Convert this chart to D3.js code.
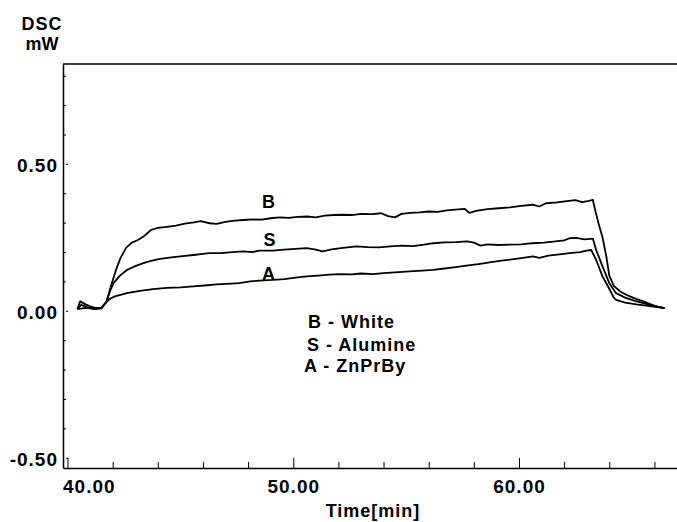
<!DOCTYPE html>
<html>
<head>
<meta charset="utf-8">
<script src="https://cdn.jsdelivr.net/npm/d3@7/dist/d3.min.js"></script>
<style>
  body { margin: 0; background: #fff; }
  svg text { font-family: "Liberation Sans", Arial, sans-serif; font-weight: bold; fill: #000; }
</style>
</head>
<body>
<script>
// DSC traces: [time (min), heat flow (mW)]
var seriesB = [[40.44,0.006],[40.6,0.02],[40.9,0.012],[41.2,0.006],[41.5,0.008],[41.72,0.03],[41.95,0.09],[42.15,0.14],[42.35,0.18],[42.6,0.215],[42.85,0.232],[43.1,0.24],[43.4,0.255],[43.7,0.275],[44.0,0.282],[44.4,0.286],[44.8,0.29],[45.2,0.297],[45.6,0.301],[45.9,0.305],[46.3,0.298],[46.6,0.296],[47.0,0.303],[47.4,0.307],[47.8,0.309],[48.2,0.311],[48.6,0.31],[49.0,0.315],[49.4,0.318],[49.8,0.316],[50.2,0.32],[50.6,0.321],[51.0,0.318],[51.4,0.324],[51.8,0.326],[52.2,0.327],[52.6,0.326],[53.0,0.33],[53.5,0.329],[53.9,0.332],[54.2,0.322],[54.5,0.318],[54.8,0.33],[55.2,0.333],[55.6,0.335],[56.0,0.338],[56.4,0.337],[56.8,0.342],[57.3,0.345],[57.6,0.347],[57.8,0.333],[58.1,0.34],[58.6,0.346],[59.1,0.349],[59.6,0.352],[60.1,0.357],[60.6,0.361],[60.9,0.355],[61.2,0.366],[61.7,0.369],[62.2,0.374],[62.5,0.377],[62.8,0.37],[63.1,0.374],[63.27,0.378],[63.4,0.335],[63.55,0.29],[63.7,0.25],[63.87,0.185],[64.0,0.12],[64.2,0.085],[64.5,0.065],[64.8,0.053],[65.1,0.043],[65.5,0.032],[65.9,0.02],[66.2,0.013],[66.45,0.009]];

var seriesS = [[40.44,0.006],[40.8,0.01],[41.2,0.007],[41.5,0.009],[41.72,0.03],[41.9,0.07],[42.04,0.094],[42.3,0.118],[42.63,0.139],[43.0,0.152],[43.36,0.162],[43.7,0.17],[44.1,0.177],[44.6,0.182],[45.1,0.186],[45.58,0.19],[46.0,0.194],[46.3,0.196],[46.8,0.196],[47.3,0.2],[47.8,0.202],[48.2,0.2],[48.5,0.205],[49.1,0.205],[49.6,0.208],[50.1,0.211],[50.6,0.213],[51.0,0.208],[51.3,0.202],[51.7,0.209],[52.2,0.214],[52.8,0.219],[53.3,0.217],[53.8,0.216],[54.3,0.219],[54.8,0.222],[55.3,0.22],[55.8,0.225],[56.2,0.23],[56.7,0.233],[57.2,0.234],[57.7,0.236],[58.0,0.232],[58.3,0.222],[58.6,0.226],[59.1,0.224],[59.6,0.225],[60.1,0.226],[60.6,0.23],[61.1,0.232],[61.6,0.236],[62.0,0.24],[62.24,0.247],[62.54,0.248],[62.9,0.243],[63.27,0.246],[63.42,0.207],[63.7,0.151],[64.0,0.094],[64.3,0.06],[64.7,0.045],[65.1,0.035],[65.5,0.026],[66.0,0.016],[66.45,0.009]];

var seriesA = [[40.44,0.006],[40.56,0.032],[40.8,0.022],[41.0,0.015],[41.23,0.01],[41.5,0.01],[41.72,0.03],[41.9,0.042],[42.1,0.049],[42.63,0.06],[43.2,0.068],[43.8,0.074],[44.4,0.078],[45.0,0.08],[45.58,0.083],[46.2,0.087],[46.6,0.09],[47.05,0.092],[47.6,0.094],[48.1,0.1],[48.5,0.103],[49.1,0.105],[49.6,0.108],[50.1,0.113],[50.6,0.117],[51.1,0.12],[51.6,0.123],[52.07,0.125],[52.6,0.124],[53.0,0.127],[53.54,0.125],[54.0,0.128],[54.5,0.131],[55.16,0.134],[55.7,0.137],[56.2,0.139],[56.7,0.144],[57.2,0.149],[57.67,0.154],[58.2,0.159],[58.7,0.165],[59.15,0.17],[59.6,0.174],[60.1,0.179],[60.62,0.185],[60.9,0.18],[61.3,0.188],[61.8,0.192],[62.24,0.196],[62.7,0.2],[63.0,0.205],[63.2,0.207],[63.42,0.173],[63.7,0.117],[64.0,0.075],[64.2,0.045],[64.3,0.037],[64.7,0.028],[65.2,0.022],[65.8,0.016],[66.45,0.009]];

// curve tags and where they sit (time, mW)
var curveNames  = ["B", "S", "A"];
var curveTagPos = [[48.9, 0.35], [48.95, 0.222], [48.9, 0.106]];
var legendLines = ["B - White", "S - Alumine", "A - ZnPrBy"];

// axis ticks
var xMajorTicks = [40, 50, 60];
var xMinorTicks = [42, 44, 46, 48, 52, 54, 56, 58, 62, 64, 66];
var yMajorTicks = [-0.5, 0, 0.5];
var yMinorTicks = [-0.4, -0.3, -0.2, -0.1, 0.1, 0.2, 0.3, 0.4, 0.6, 0.7, 0.8];

var width = 677, height = 522;

// plain hyphen minus, like the old plotter output
function fmt(d) {
    return d3.format(".2f")(d).replace("\u2212", "-");
}

var svg = d3.select("body").append("svg")
    .attr("width", width)
    .attr("height", height);

var x = d3.scaleLinear().domain([39.8, 67.0]).range([63, 677]);
var y = d3.scaleLinear().domain([-0.535, 0.84]).range([468, 64]);

/* frame: top line (left and bottom come from the axes) */
svg.append("line")
    .attr("x1", 63).attr("x2", 677)
    .attr("y1", 64).attr("y2", 64)
    .attr("stroke", "#000").attr("stroke-width", 1.5);

// bottom axis with labels
var xAxis = svg.append("g")
    .attr("transform", "translate(0,468)")
    .call(d3.axisBottom(x)
        .tickValues(xMajorTicks)
        .tickSizeInner(-10)
        .tickSizeOuter(0)
        .tickPadding(12)
        .tickFormat(fmt));
xAxis.selectAll("text")
    .style("font-size", "19px")
    .style("letter-spacing", "1px");
// first label is pushed clear of the y axis
xAxis.selectAll(".tick")
    .filter(function(d) { return d === 40; })
    .select("text")
    .attr("text-anchor", "start")
    .attr("x", -5);

svg.append("g")
    .attr("transform", "translate(0,468)")
    .call(d3.axisBottom(x)
        .tickValues(xMinorTicks)
        .tickSizeInner(-6)
        .tickSizeOuter(0)
        .tickFormat(""))
    .select(".domain").remove();

// left axis
var yAxis = svg.append("g")
    .attr("transform", "translate(63,0)")
    .call(d3.axisLeft(y)
        .tickValues(yMajorTicks)
        .tickSizeInner(-5)
        .tickSizeOuter(0)
        .tickPadding(5)
        .tickFormat(fmt));
yAxis.selectAll("text")
    .attr("dy", "0.4em")
    .style("font-size", "19px")
    .style("letter-spacing", "1px");
yAxis.selectAll(".tick line").attr("x1", 3);

svg.append("g")
    .attr("transform", "translate(63,0)")
    .call(d3.axisLeft(y)
        .tickValues(yMinorTicks)
        .tickSizeInner(-3)
        .tickSizeOuter(0)
        .tickFormat(""))
    .select(".domain").remove();

svg.selectAll(".domain")
    .attr("stroke", "#000")
    .attr("stroke-width", 1.5);

// axis titles
svg.append("text")
    .attr("x", 42).attr("y", 30)
    .attr("text-anchor", "middle")
    .style("font-size", "18px")
    .style("letter-spacing", "1px")
    .text("DSC");
svg.append("text")
    .attr("x", 42).attr("y", 50)
    .attr("text-anchor", "middle")
    .style("font-size", "18px")
    .text("mW");
svg.append("text")
    .attr("x", 373).attr("y", 517)
    .attr("text-anchor", "middle")
    .style("font-size", "18px")
    .style("letter-spacing", "1px")
    .text("Time[min]");

// the traces
var line = d3.line()
    .x(function(d) { return x(d[0]); })
    .y(function(d) { return y(d[1]); });

svg.selectAll(".trace")
    .data([seriesB, seriesS, seriesA])
    .enter()
    .append("path")
    .attr("class", "trace")
    .attr("d", line)
    .attr("fill", "none")
    .attr("stroke", "#000")
    .attr("stroke-width", 1.8)
    .attr("stroke-linejoin", "round");

// curve tags
svg.selectAll(".tag")
    .data(curveNames)
    .enter()
    .append("text")
    .attr("class", "tag")
    .attr("x", function(d, i) { return x(curveTagPos[i][0]); })
    .attr("y", function(d, i) { return y(curveTagPos[i][1]); })
    .attr("text-anchor", "middle")
    .style("font-size", "18px")
    .text(function(d) { return d; });

// legend
var legendX = [308, 307, 304];
var legendY = [328, 351, 372];
svg.selectAll(".legend")
    .data(legendLines)
    .enter()
    .append("text")
    .attr("class", "legend")
    .attr("x", function(d, i) { return legendX[i]; })
    .attr("y", function(d, i) { return legendY[i]; })
    .style("font-size", "18px")
    .style("letter-spacing", "1px")
    .text(function(d) { return d; });
</script>
</body>
</html>
